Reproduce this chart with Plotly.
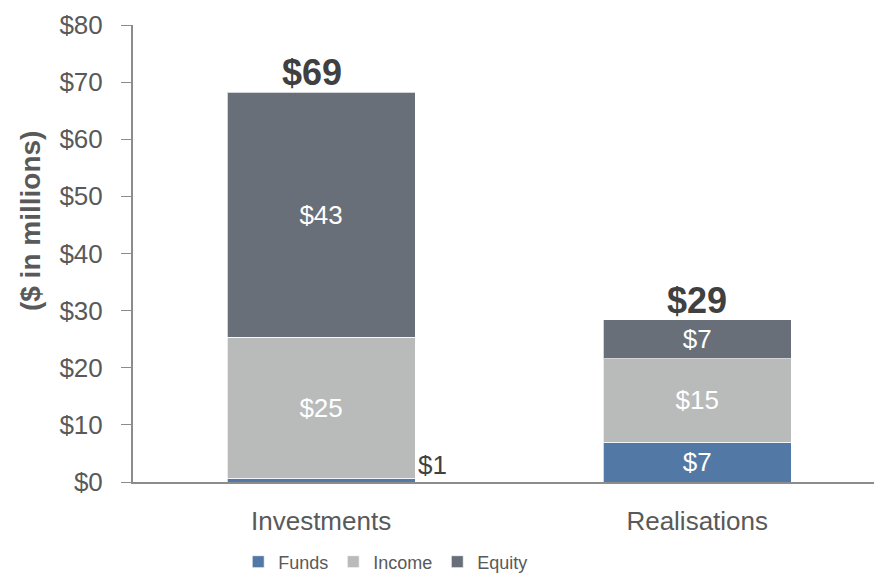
import plotly.graph_objects as go

categories = ["Investments", "Realisations"]
funds = [0.7, 7.0]
income = [24.6, 14.6]
equity = [42.9, 6.8]
y_ticks = [0, 10, 20, 30, 40, 50, 60, 70, 80]
y_tick_labels = ["$%d" % v for v in y_ticks]

FONT = "Liberation Sans, Arial, sans-serif"
COL_FUNDS = "#5279A5"
COL_INCOME = "#B9BBBA"
COL_EQUITY = "#686F79"
TXT = "#595959"
DARK = "#404040"

def lbl(v):
    return "$%d" % max(1, round(v))

fig = go.Figure()
series = [("Funds", funds, COL_FUNDS), ("Income", income, COL_INCOME), ("Equity", equity, COL_EQUITY)]
for name, vals, col in series:
    texts = [lbl(v) if v >= 3 else "" for v in vals]
    fig.add_trace(go.Bar(
        name=name, x=categories, y=vals, marker_color=col,
        marker_line=dict(color="rgba(255,255,255,0.7)", width=1),
        text=texts, textposition="inside", insidetextanchor="middle",
        textfont=dict(family=FONT, size=26, color="white"),
        width=0.5, hoverinfo="skip",
    ))

# small funds label outside the bar
for i, v in enumerate(funds):
    if v < 3:
        fig.add_annotation(x=i + 0.25, y=0, xref="x", yref="y", text=lbl(v),
                           showarrow=False, xanchor="left", yanchor="bottom", xshift=1, yshift=0,
                           font=dict(family=FONT, size=26, color=DARK))

# totals
total_shift = [-9, 0]
for i in range(len(categories)):
    tot = funds[i] + income[i] + equity[i]
    tl = max(1, round(funds[i])) + round(income[i]) + round(equity[i])
    fig.add_annotation(x=categories[i], y=tot, xref="x", yref="y", text="<b>$%d</b>" % tl,
                       showarrow=False, xanchor="center", yanchor="bottom", yshift=-3,
                       xshift=total_shift[i],
                       font=dict(family=FONT, size=36, color=DARK))

fig.add_annotation(text="<b>($ in millions)</b>", xref="paper", yref="paper", x=0, y=0.571,
                   xanchor="center", yanchor="middle", xshift=-103, textangle=-90, showarrow=False,
                   font=dict(family=FONT, size=28, color=TXT))

fig.update_layout(
    barmode="stack", width=874, height=574,
    margin=dict(l=133, r=0, t=25, b=92, autoexpand=False),
    plot_bgcolor="white", paper_bgcolor="white",
    showlegend=True,
    legend=dict(orientation="h", x=0.142, y=-0.175, xanchor="left", yanchor="middle",
                font=dict(family=FONT, size=18, color=TXT), traceorder="normal",
                itemwidth=30, bgcolor="rgba(0,0,0,0)"),
    font=dict(family=FONT, color=TXT),
)
fig.update_xaxes(range=[-0.5, 1.47], showline=True, linecolor="#8C8C8C", linewidth=2,
                 ticks="", tickfont=dict(family=FONT, size=26, color=TXT), showgrid=False,
                 fixedrange=True, automargin=False, ticklabelstandoff=15)
fig.update_yaxes(range=[0, 80], tickvals=y_ticks, ticktext=y_tick_labels, showline=True,
                 linecolor="#8C8C8C", linewidth=2, ticks="outside", ticklen=10, tickcolor="#8C8C8C",
                 tickwidth=1, tickfont=dict(family=FONT, size=26, color=TXT), showgrid=False,
                 zeroline=False, ticklabelstandoff=13, automargin=False)
fig.write_html("out.html", config={"displayModeBar": False},
               post_script="document.body.style.margin='0';document.body.style.padding='0';")
